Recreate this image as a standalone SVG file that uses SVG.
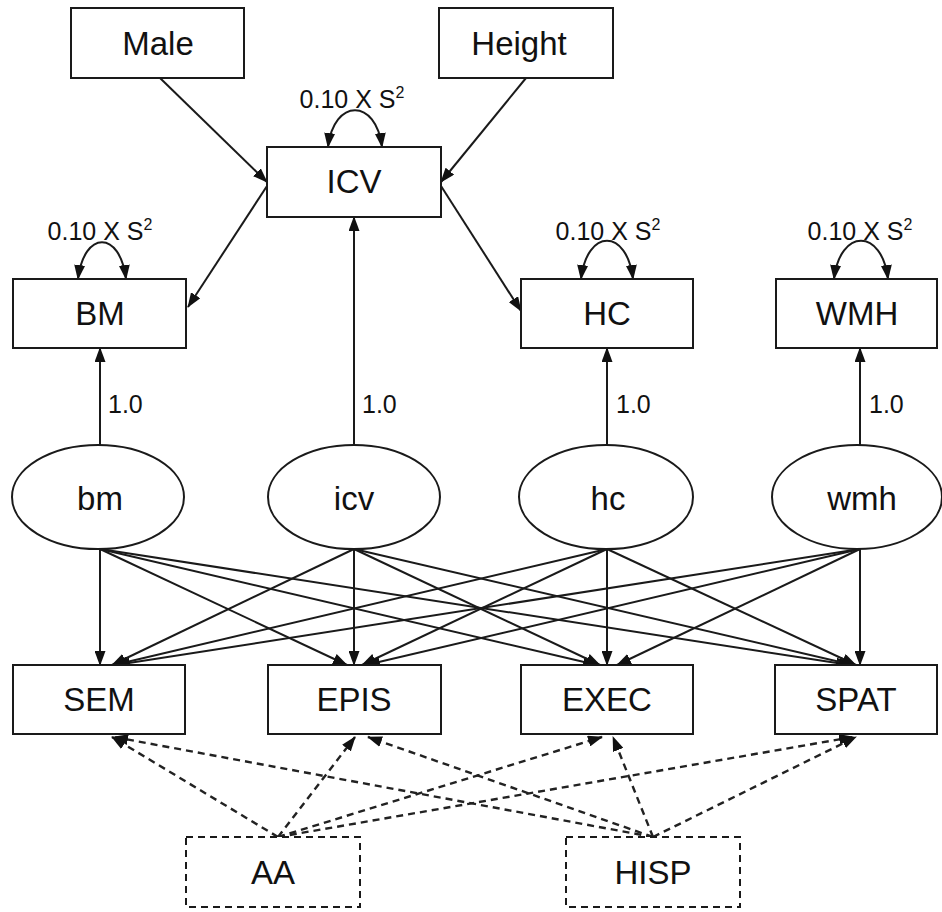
<svg xmlns="http://www.w3.org/2000/svg" width="942" height="912" viewBox="0 0 942 912">
<defs>
<style>
.box{fill:#fff;stroke:#1a1a1a;stroke-width:2}
.dbox{fill:#fff;stroke:#1a1a1a;stroke-width:2;stroke-dasharray:7,5}
.lbl{font-family:"Liberation Sans",Arial,sans-serif;font-size:33px;fill:#111;text-anchor:middle}
.sm{font-family:"Liberation Sans",Arial,sans-serif;font-size:25px;fill:#111}
.ln{fill:none;stroke:#1a1a1a;stroke-width:2;marker-end:url(#ah)}
.dl{fill:none;stroke:#222;stroke-width:2.4;stroke-dasharray:7,5;marker-end:url(#ah)}
.lp{fill:none;stroke:#1a1a1a;stroke-width:2;marker-start:url(#ah);marker-end:url(#ah)}
</style>
<marker id="ah" viewBox="0 0 15 11" refX="14" refY="5.5" markerWidth="15" markerHeight="11" markerUnits="userSpaceOnUse" orient="auto-start-reverse">
<path d="M0,0 L15,5.5 L0,11 z" fill="#111"/>
</marker>
</defs>
<rect width="942" height="912" fill="#fff"/>

<g id="connectors">
<line class="ln" x1="160" y1="78" x2="267" y2="182"/>
<line class="ln" x1="526" y1="78" x2="441" y2="182"/>
<line class="ln" x1="267" y1="186" x2="188" y2="307"/>
<line class="ln" x1="441" y1="186" x2="521" y2="311"/>
<path class="lp" d="M328,147 C334,98 376,98 382,147"/>
<path class="lp" d="M78,279 C84,230 120,230 126,279"/>
<path class="lp" d="M581,279 C587,228 627,228 633,279"/>
<path class="lp" d="M834,279 C840,228 882,228 888,279"/>
<line class="ln" x1="100" y1="445" x2="100" y2="348"/>
<line class="ln" x1="354" y1="445" x2="354" y2="217"/>
<line class="ln" x1="607" y1="445" x2="607" y2="348"/>
<line class="ln" x1="860" y1="445" x2="860" y2="348"/>
<line class="ln" x1="100" y1="549" x2="100" y2="665"/>
<line class="ln" x1="100" y1="549" x2="347" y2="665"/>
<line class="ln" x1="100" y1="549" x2="597" y2="665"/>
<line class="ln" x1="100" y1="549" x2="850" y2="665"/>
<line class="ln" x1="354" y1="549" x2="112" y2="665"/>
<line class="ln" x1="354" y1="549" x2="354" y2="665"/>
<line class="ln" x1="354" y1="549" x2="600" y2="665"/>
<line class="ln" x1="354" y1="549" x2="853" y2="665"/>
<line class="ln" x1="607" y1="549" x2="114" y2="665"/>
<line class="ln" x1="607" y1="549" x2="362" y2="665"/>
<line class="ln" x1="607" y1="549" x2="607" y2="665"/>
<line class="ln" x1="607" y1="549" x2="856" y2="665"/>
<line class="ln" x1="860" y1="549" x2="116" y2="665"/>
<line class="ln" x1="860" y1="549" x2="366" y2="665"/>
<line class="ln" x1="860" y1="549" x2="617" y2="665"/>
<line class="ln" x1="860" y1="549" x2="860" y2="665"/>
<line class="dl" x1="278" y1="837" x2="112" y2="737"/>
<line class="dl" x1="278" y1="837" x2="355" y2="737"/>
<line class="dl" x1="278" y1="837" x2="602" y2="737"/>
<line class="dl" x1="278" y1="837" x2="853" y2="737"/>
<line class="dl" x1="653" y1="837" x2="114" y2="737"/>
<line class="dl" x1="653" y1="837" x2="368" y2="737"/>
<line class="dl" x1="653" y1="837" x2="613" y2="737"/>
<line class="dl" x1="653" y1="837" x2="856" y2="737"/>
</g>

<g id="labels">
<text class="sm" x="352" y="108" text-anchor="middle">0.10 X S<tspan font-size="16" dy="-10">2</tspan></text>
<text class="sm" x="100" y="240" text-anchor="middle">0.10 X S<tspan font-size="16" dy="-10">2</tspan></text>
<text class="sm" x="608" y="240" text-anchor="middle">0.10 X S<tspan font-size="16" dy="-10">2</tspan></text>
<text class="sm" x="860" y="240" text-anchor="middle">0.10 X S<tspan font-size="16" dy="-10">2</tspan></text>
<text class="sm" x="108" y="413">1.0</text>
<text class="sm" x="362" y="413">1.0</text>
<text class="sm" x="616" y="413">1.0</text>
<text class="sm" x="869" y="413">1.0</text>
</g>

<g id="Male"><rect class="box" x="71" y="8" width="173" height="70"/><text class="lbl" x="158" y="55">Male</text></g>
<g id="Height"><rect class="box" x="439" y="8" width="174" height="70"/><text class="lbl" x="519" y="55">Height</text></g>
<g id="ICV"><rect class="box" x="267" y="147" width="174" height="70"/><text class="lbl" x="354" y="193">ICV</text></g>
<g id="BM"><rect class="box" x="13" y="279" width="173" height="69"/><text class="lbl" x="100" y="325">BM</text></g>
<g id="HC"><rect class="box" x="521" y="279" width="172" height="69"/><text class="lbl" x="607" y="325">HC</text></g>
<g id="WMH"><rect class="box" x="776" y="279" width="161" height="69"/><text class="lbl" x="857" y="325">WMH</text></g>

<g id="bm"><ellipse class="box" cx="98" cy="497" rx="86" ry="52"/><text class="lbl" x="100" y="510">bm</text></g>
<g id="icv"><ellipse class="box" cx="354" cy="497" rx="86" ry="52"/><text class="lbl" x="354" y="510">icv</text></g>
<g id="hc"><ellipse class="box" cx="606" cy="497" rx="87" ry="52"/><text class="lbl" x="608" y="510">hc</text></g>
<g id="wmh"><ellipse class="box" cx="857" cy="497" rx="85" ry="52"/><text class="lbl" x="862" y="510">wmh</text></g>

<g id="SEM"><rect class="box" x="13" y="665" width="172" height="69"/><text class="lbl" x="99" y="711">SEM</text></g>
<g id="EPIS"><rect class="box" x="268" y="665" width="173" height="69"/><text class="lbl" x="354" y="711">EPIS</text></g>
<g id="EXEC"><rect class="box" x="521" y="665" width="172" height="69"/><text class="lbl" x="607" y="711">EXEC</text></g>
<g id="SPAT"><rect class="box" x="775" y="665" width="162" height="69"/><text class="lbl" x="856" y="711">SPAT</text></g>

<g id="AA"><rect class="dbox" x="186" y="837" width="174" height="70"/><text class="lbl" x="273" y="884">AA</text></g>
<g id="HISP"><rect class="dbox" x="566" y="837" width="174" height="70"/><text class="lbl" x="653" y="884">HISP</text></g>
</svg>
